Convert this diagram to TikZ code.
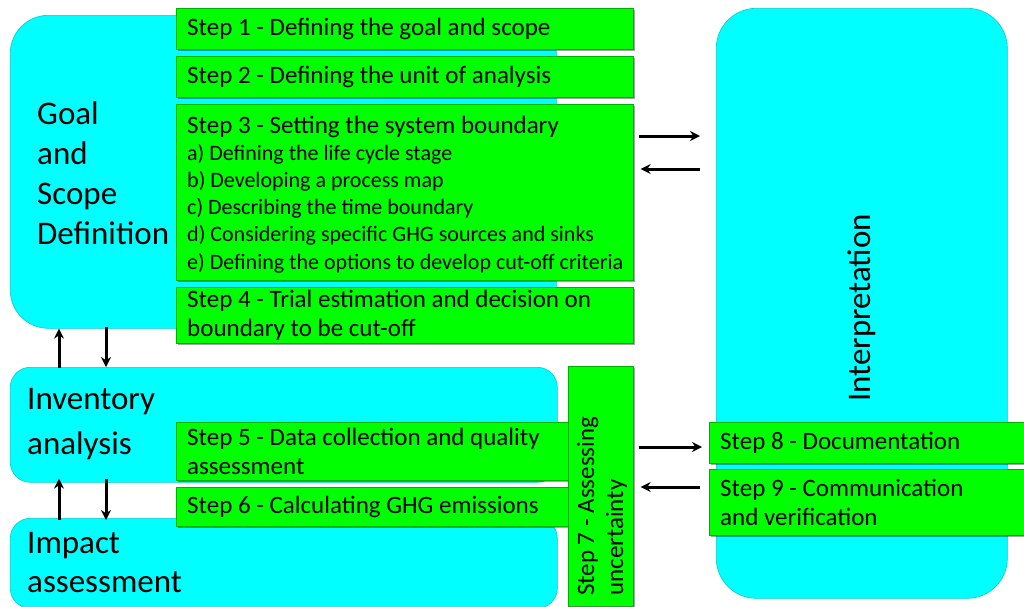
\documentclass[tikz,border=0pt]{standalone}
\usepackage{fontspec}
\setmainfont{Carlito}
\usetikzlibrary{arrows.meta,shadows,calc}
\definecolor{cy}{RGB}{0,255,255}
\definecolor{gr}{RGB}{0,255,0}
\newcommand{\subfs}{\fontsize{22}{27}\selectfont}
\begin{document}
\begin{tikzpicture}[x=1pt,y=-1pt,
 cbox/.style={fill=cy, draw=cy!80!black, line width=0.6pt, anchor=north west, inner sep=0pt},
 gbox/.style={fill=gr, draw=gr!70!black, line width=0.6pt, anchor=north west, inner sep=0pt,
   drop shadow={shadow xshift=1.2pt, shadow yshift=-1.2pt, opacity=0.35, fill=black}},
 gtext/.style={anchor=west, align=left, inner sep=0pt, font=\fontsize{25}{29}\selectfont},
 arr/.style={line width=3pt, -{Stealth[length=10pt,width=10pt]}},
 big/.style={align=left, anchor=west, inner sep=0pt}]
\useasboundingbox (0,0) rectangle (1024,606);
% cyan boxes
\node[cbox, rounded corners=38pt, minimum width=546pt, minimum height=313pt] (goal) at (10,15) {};
\node[cbox, rounded corners=20pt, minimum width=547pt, minimum height=115pt] (inv) at (10,367) {};
\node[cbox, rounded corners=20pt, minimum width=547pt, minimum height=90pt] (imp) at (10,518) {};
\node[cbox, rounded corners=40pt, minimum width=291pt, minimum height=590pt] (interp) at (716,8) {};
% labels of cyan boxes
\node[big, font=\fontsize{33}{40}\selectfont] (tgoal) at (37,173) {Goal\\and\\Scope\\Definition};
\node[big, font=\fontsize{33}{45}\selectfont] (tinv) at (27,424.5) {Inventory\\analysis};
\node[big, font=\fontsize{33}{39}\selectfont] (timp) at (27,563) {Impact\\assessment};
\node[rotate=90, font=\fontsize{33}{36}\selectfont, inner sep=0pt] (tint) at (862,308) {Interpretation};
% green step boxes
\node[gbox, minimum width=457pt, minimum height=41pt] (s1) at (176,8) {};
\node[gbox, minimum width=457pt, minimum height=41pt] (s2) at (176,56) {};
\node[gbox, minimum width=457pt, minimum height=176pt] (s3) at (176,104) {};
\node[gbox, minimum width=457pt, minimum height=56pt] (s4) at (176,287) {};
\node[gbox, minimum width=400pt, minimum height=58pt] (s5) at (176,422) {};
\node[gbox, minimum width=400pt, minimum height=39pt] (s6) at (176,487) {};
\node[gbox, minimum width=65pt, minimum height=240pt] (s7) at (568,366) {};
\node[gbox, minimum width=315pt, minimum height=41pt] (s8) at (709,422) {};
\node[gbox, minimum width=315pt, minimum height=66pt] (s9) at (709,469) {};
% step texts
\node[gtext] (t1) at ($(s1.west)+(11,0)$) {Step 1 - Defining the goal and scope};
\node[gtext] (t2) at ($(s2.west)+(11,0)$) {Step 2 - Defining the unit of analysis};
\node[gtext, font=\fontsize{25}{27.2}\selectfont] (t3) at ($(s3.west)+(11,2)$) {Step 3 - Setting the system boundary\\
{\subfs a) Defining the life cycle stage}\\
{\subfs b) Developing a process map}\\
{\subfs c) Describing the time boundary}\\
{\subfs d) Considering specific GHG sources and sinks}\\
{\subfs e) Defining the options to develop cut-off criteria}};
\node[gtext] (t4) at ($(s4.west)+(11,0)$) {Step 4 - Trial estimation and decision on\\boundary to be cut-off};
\node[gtext] (t5) at ($(s5.west)+(11,0)$) {Step 5 - Data collection and quality\\assessment};
\node[gtext] (t6) at ($(s6.west)+(11,0)$) {Step 6 - Calculating GHG emissions};
\node[gtext, rotate=90] (t7) at (602,596) {Step 7 - Assessing\\uncertainty};
\node[gtext] (t8) at ($(s8.west)+(11,0)$) {Step 8 - Documentation};
\node[gtext] (t9) at ($(s9.west)+(11,0)$) {Step 9 - Communication\\and verification};
% arrows
\draw[arr] ($(s3.north east)+(5,32)$) -- ($(interp.north west)+(-16,128)$);
\draw[arr] ($(interp.north west)+(-16,161)$) -- ($(s3.north east)+(7,65)$);
\draw[arr] ($(s7.north east)+(5,81)$) -- ($(s8.north west)+(-7,25)$);
\draw[arr] ($(s9.north west)+(-9,18)$) -- ($(s7.north east)+(7,121)$);
\draw[arr] ($(inv.north west)+(49,1)$) -- ($(goal.south west)+(49,0)$);
\draw[arr] ($(goal.south west)+(96,-2)$) -- ($(inv.north west)+(96,0)$);
\draw[arr] ($(imp.north west)+(49,2)$) -- ($(inv.south west)+(49,-4)$);
\draw[arr] ($(inv.south west)+(96,-4)$) -- ($(imp.north west)+(96,2)$);
\end{tikzpicture}
\end{document}
